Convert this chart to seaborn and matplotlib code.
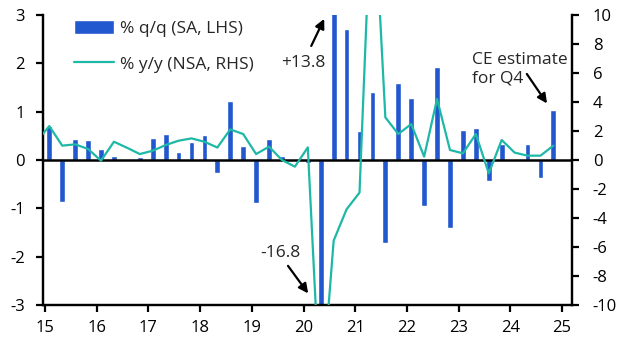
import matplotlib
matplotlib.use("Agg")
import matplotlib.pyplot as plt
import seaborn as sns
import numpy as np
import pandas as pd

# ---- data ----
bar_quarters = [f"{y}Q{q}" for y in range(2015, 2025) for q in range(1, 5)]
qoq = [0.70, -0.86, 0.43, 0.41,
       0.23, 0.08, 0.01, 0.07,
       0.46, 0.54, 0.17, 0.37,
       0.52, -0.26, 1.22, 0.28,
       -0.88, 0.43, 0.09, -0.03,
       -0.06, -16.8, 13.8, 2.72,
       0.59, 1.41, -1.71, 1.60,
       1.28, -0.95, 1.93, -1.40,
       0.63, 0.67, -0.43, 0.33,
       0.02, 0.33, -0.37, 1.03]

line_quarters = ["2014Q4"] + bar_quarters
yoy = [1.26,
       2.34, 0.99, 1.08, 0.76,
       -0.05, 1.26, 0.85, 0.41,
       0.64, 1.03, 1.33, 1.49,
       1.26, 0.86, 2.11, 1.79,
       0.41, 0.92, 0.0, -0.46,
       0.87, -17.0, -5.56, -3.40,
       -2.25, 20.0, 2.94, 1.79,
       2.48, 0.23, 4.21, 0.69,
       0.46, 1.79, -0.92, 1.38,
       0.51, 0.30, 0.30, 0.99]

year_ticks = list(range(15, 26))
bar_label = "% q/q (SA, LHS)"
line_label = "% y/y (NSA, RHS)"

def qpos(s):
    y = int(s[:4]) - 2000
    q = int(s[-1])
    return y + 1 / 12 + (q - 1) * 0.25

bars_df = pd.DataFrame({"x": [qpos(s) for s in bar_quarters], "v": qoq})
line_df = pd.DataFrame({"x": [qpos(s) for s in line_quarters], "v": yoy})

BLUE = "#2258CF"
TEAL = "#1DB8A6"

sns.set_style("white")
plt.rcParams["font.family"] = ["Open Sans", "DejaVu Sans"]
plt.rcParams["axes.unicode_minus"] = False

fig = plt.figure(figsize=(6.29, 3.55), dpi=100)
ax = fig.add_axes([43 / 629, 50 / 355, (572 - 43) / 629, 290 / 355])
ax2 = ax.twinx()

sns.barplot(data=bars_df, x="x", y="v", native_scale=True, width=0.45,
            color=BLUE, saturation=1, ax=ax, label=bar_label, zorder=2)
sns.lineplot(data=line_df, x="x", y="v", color=TEAL, lw=1.6, ax=ax2,
             label=line_label, zorder=3)

xlo = 15 - 2 / 51.7
xhi = 25 + 10 / 51.7
ax.set_xlim(xlo, xhi)
ax.set_ylim(-3, 3)
ax2.set_ylim(-10, 10)

ax.axhline(0, color="black", lw=1.8, zorder=4)

for a in (ax, ax2):
    a.set_xlabel("")
    a.set_ylabel("")
    a.spines["top"].set_visible(False)
    for s in ("left", "right", "bottom"):
        a.spines[s].set_linewidth(1.6)
        a.spines[s].set_color("black")

ax.set_xticks(year_ticks)
ax.set_xticklabels([str(t) for t in year_ticks])
ax.set_yticks(range(-3, 4))
ax2.set_yticks(range(-10, 11, 2))

ax.tick_params(axis="x", direction="out", length=5, width=1.6, pad=6,
               labelsize=12, bottom=True, colors="black")
ax.tick_params(axis="y", direction="out", length=5, width=1.6, pad=8,
               labelsize=12, left=True, colors="black")
ax2.tick_params(axis="y", direction="out", length=5, width=1.6, pad=10,
                labelsize=12, right=True, colors="black")

# legend
h1, l1 = ax.get_legend_handles_labels()
h2, l2 = ax2.get_legend_handles_labels()
if ax.get_legend():
    ax.get_legend().remove()
leg = ax2.legend(h1 + h2, l1 + l2, loc="upper left",
                 bbox_to_anchor=(0.045, 1.005), frameon=False, fontsize=12.5,
                 handlelength=2.3, handleheight=0.8, labelspacing=1.08,
                 handletextpad=0.35, borderaxespad=0)

# annotations
TS = 12.5
arrow = dict(arrowstyle="-|>", color="black", lw=1.6, mutation_scale=14,
             shrinkA=0, shrinkB=0)
ax2.text(19.99, 2.01 * 10 / 3, "+13.8", fontsize=TS, ha="center", va="center")
ax2.annotate("", xy=(20.40, 2.92 * 10 / 3), xytext=(20.15, 2.36 * 10 / 3),
             arrowprops=arrow)
ax2.text(19.545, -1.925 * 10 / 3, "-16.8", fontsize=TS, ha="center", va="center")
ax2.annotate("", xy=(20.09, -2.76 * 10 / 3), xytext=(19.70, -2.19 * 10 / 3),
             arrowprops=arrow)
ax2.text(23.26, 2.24 * 10 / 3, "CE estimate\nfor Q4", fontsize=TS,
         ha="left", va="top", linespacing=1.2)
ax2.annotate("", xy=(24.71, 1.17 * 10 / 3), xytext=(24.32, 1.78 * 10 / 3),
             arrowprops=arrow)

fig.savefig("out.png", dpi=100)
